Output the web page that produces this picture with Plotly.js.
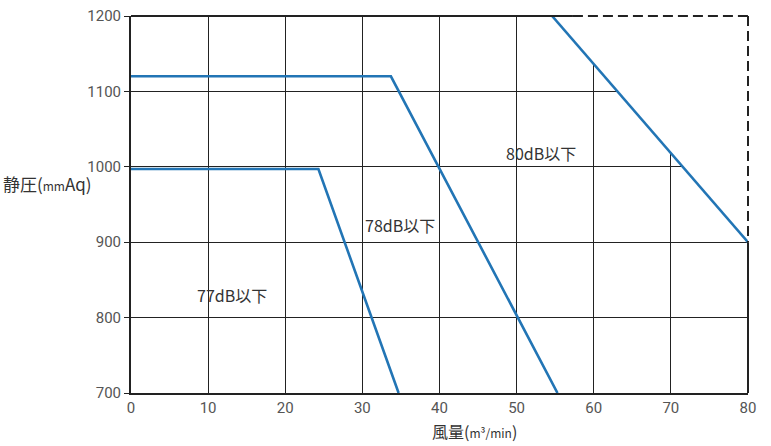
<!DOCTYPE html>
<html>
<head>
<meta charset="utf-8">
<script src="https://cdn.plot.ly/plotly-3.0.1.min.js"></script>
<style>html,body{margin:0;padding:0;background:#fff}#chart{width:771px;height:446px}</style>
</head>
<body>
<div id="chart"></div>
<script>
// Data
const x77 = [0, 24.3, 34.7];
const y77 = [997, 997, 700];
const x78 = [0, 33.7, 55.3];
const y78 = [1120, 1120, 700];
const x80 = [54.6, 80];
const y80 = [1200, 900];

const xTicks = [0, 10, 20, 30, 40, 50, 60, 70, 80];
const yTicks = [700, 800, 900, 1000, 1100, 1200];

const labels = [
  {text: '77dB以下', x: 13.1, y: 830},
  {text: '78dB以下', x: 34.9, y: 923},
  {text: '80dB以下', x: 53.2, y: 1018}
];

const xMax = xTicks[xTicks.length - 1];
const yMax = yTicks[yTicks.length - 1];
const yMin = yTicks[0];
const blue = '#2275b5';
const ink = '#222222';
const jp = '"Noto Sans CJK JP", "Noto Sans", sans-serif';
const num = '"Liberation Sans Narrow", "Roboto", "Noto Sans", sans-serif';

const traces = [
  // white mask hiding the grid above the 80dB line
  {x: [x80[0], x80[x80.length-1], xMax, x80[0]], y: [y80[0], y80[y80.length-1], yMax, y80[0]],
   mode: 'lines', fill: 'toself', fillcolor: '#ffffff', line: {width: 0, color: '#ffffff'},
   hoverinfo: 'skip', showlegend: false},
  {x: x77, y: y77, mode: 'lines', line: {color: blue, width: 2.6}, showlegend: false, cliponaxis: false},
  {x: x78, y: y78, mode: 'lines', line: {color: blue, width: 2.6}, showlegend: false, cliponaxis: false},
  {x: x80, y: y80, mode: 'lines', line: {color: blue, width: 2.6}, showlegend: false, cliponaxis: false}
];

// borders in paper coordinates so they are not clipped at the plot edge
const px = v => v / xMax;
const py = v => (v - yMin) / (yMax - yMin);
const dashStart = 57.3;
const yDashEnd = y80[y80.length - 1];
const shapes = [
  {type: 'line', xref: 'paper', yref: 'paper', x0: 0, x1: px(dashStart), y0: 1, y1: 1, line: {color: ink, width: 2}, layer: 'above'},
  {type: 'line', xref: 'paper', yref: 'paper', x0: px(dashStart), x1: 1, y0: 1, y1: 1, line: {color: ink, width: 2, dash: '10px,5px'}, layer: 'above'},
  {type: 'line', xref: 'paper', yref: 'paper', x0: 1, x1: 1, y0: 1, y1: py(yDashEnd), line: {color: ink, width: 2, dash: '10px,5px'}, layer: 'above'},
  {type: 'line', xref: 'paper', yref: 'paper', x0: 1, x1: 1, y0: py(yDashEnd), y1: 0, line: {color: ink, width: 2}, layer: 'above'}
];

const annotations = labels.map(l => ({
  text: l.text, x: l.x, y: l.y, xref: 'x', yref: 'y', showarrow: false,
  font: {family: jp, size: 16, color: '#333'}
}));
annotations.push({
  text: '静圧(<span style="font-size:12px">mm</span>Aq)', xref: 'paper', yref: 'paper',
  x: -0.21, y: 0.555, xanchor: 'left', yanchor: 'middle', showarrow: false,
  font: {family: jp, size: 17, color: '#333'}
});
annotations.push({
  text: '風量(<span style="font-size:12px">m³/min</span>)', xref: 'paper', yref: 'paper',
  x: 0.556, y: -0.1, xanchor: 'center', yanchor: 'middle', showarrow: false,
  font: {family: jp, size: 16, color: '#333'}
});

const layout = {
  width: 771, height: 446,
  margin: {l: 131, r: 23, t: 16, b: 53},
  paper_bgcolor: '#fff', plot_bgcolor: '#fff',
  xaxis: {
    range: [0, xMax], tickvals: xTicks, ticktext: xTicks.map(String),
    showgrid: true, gridcolor: ink, gridwidth: 1, zeroline: false,
    showline: true, linecolor: ink, linewidth: 2, ticks: '',
    tickfont: {family: num, size: 15, color: '#555'}, fixedrange: true
  },
  yaxis: {
    range: [yMin, yMax], tickvals: yTicks, ticktext: yTicks.map(String),
    showgrid: true, gridcolor: ink, gridwidth: 1, zeroline: false,
    showline: true, linecolor: ink, linewidth: 2, ticks: 'outside', ticklen: 5, tickcolor: ink,
    tickfont: {family: num, size: 15, color: '#555'}, fixedrange: true
  },
  shapes: shapes,
  annotations: annotations
};

Plotly.newPlot('chart', traces, layout, {displayModeBar: false, staticPlot: true});
</script>
</body>
</html>
